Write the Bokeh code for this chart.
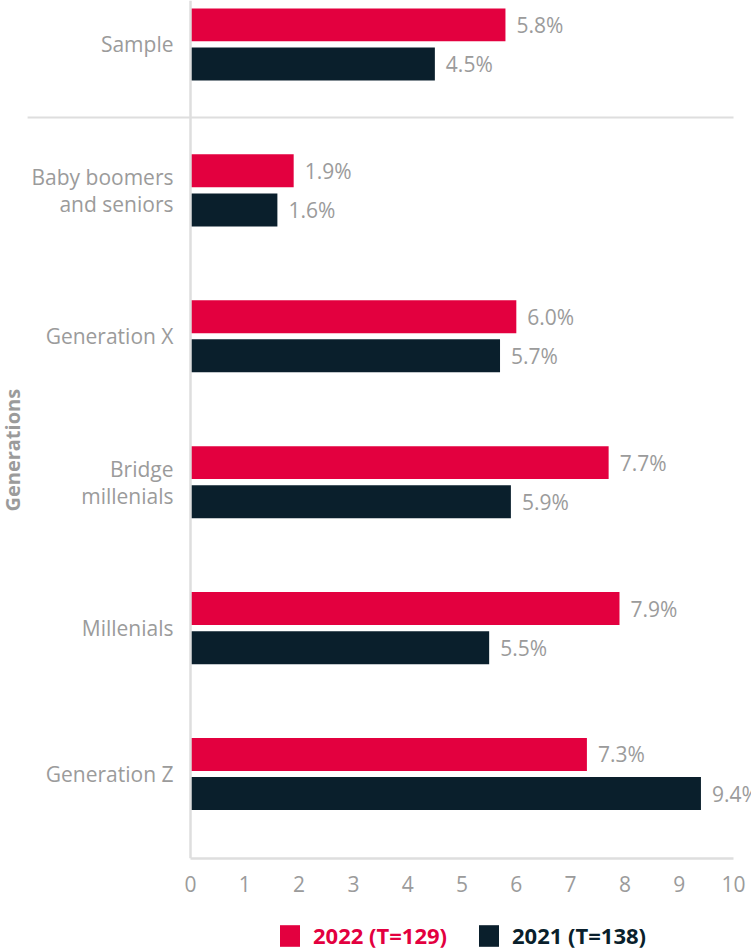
from math import pi
from bokeh.plotting import figure
from bokeh.layouts import column
from bokeh.models import (ColumnDataSource, Range1d, LabelSet, Label, Legend,
                          LegendItem, Arrow, FixedTicker, Span)
from bokeh.transform import dodge
from bokeh.core.properties import value
from bokeh.embed import file_html
from bokeh.resources import INLINE

# ---- data ----
categories = ["Sample", "Baby boomers\nand seniors", "Generation X",
              "Bridge\nmillenials", "Millenials", "Generation Z"]
values_2022 = [5.8, 1.9, 6.0, 7.7, 7.9, 7.3]
values_2021 = [4.5, 1.6, 5.7, 5.9, 5.5, 9.4]
series_names = ["2022 (T=129)", "2021 (T=138)"]
x_ticks = [0, 1, 2, 3, 4, 5, 6, 7, 8, 9, 10]
axis_title = "Generations"

# ---- style ----
RED = "#E3003F"
NAVY = "#0A1F2C"
GRAY_TEXT = "#9B9B9B"
AXIS_GRAY = "#DEDEDE"
FONT = "Open Sans"
FS = "21px"
W = 751
LINE_H = 27  # px between lines of a wrapped category label

n = len(categories)
ypos = [n - 1 - i for i in range(n)]

src = ColumnDataSource(dict(
    y=ypos, v22=values_2022, v21=values_2021,
    t22=[f"{v:.1f}%" for v in values_2022],
    t21=[f"{v:.1f}%" for v in values_2021],
))

# one row per line of each category label (right-aligned line by line)
lab_y, lab_t, lab_off = [], [], []
for y, cat in zip(ypos, categories):
    lines = cat.split("\n")
    k = len(lines)
    for j, ln in enumerate(lines):
        lab_y.append(y)
        lab_t.append(ln)
        lab_off.append(((k - 1) / 2 - j) * LINE_H)
lab_src = ColumnDataSource(dict(y=lab_y, text=lab_t, off=lab_off))

p = figure(width=W, height=900, output_backend="svg", toolbar_location=None,
           x_range=Range1d(-3.499, 10.331), y_range=Range1d(-0.579, 5.301),
           y_axis_location=None,
           min_border_left=0, min_border_right=0, min_border_top=0,
           min_border_bottom=42)
p.outline_line_color = None
p.grid.visible = False
p.background_fill_color = "white"
p.border_fill_color = "white"

# vertical axis line at 0
p.add_layout(Span(location=0, dimension="height", line_color=AXIS_GRAY,
                  line_width=2.5))
# separator between Sample and generations
p.add_layout(Arrow(x_start=-3.0, y_start=4.5, x_end=10, y_end=4.5, end=None,
                   line_color=AXIS_GRAY, line_width=2))

OFF = 0.134
H = 0.226
r22 = p.hbar(y=dodge("y", OFF), left=0, right="v22", height=H,
             fill_color=RED, line_color=None, source=src)
r21 = p.hbar(y=dodge("y", -OFF), left=0, right="v21", height=H,
             fill_color=NAVY, line_color=None, source=src)

# value labels
for fld, txt, off in (("v22", "t22", OFF), ("v21", "t21", -OFF)):
    p.add_layout(LabelSet(x=fld, y=dodge("y", off), text=txt, source=src,
                          x_offset=11, text_baseline="middle", text_align="left",
                          text_font=value(FONT), text_font_size=FS,
                          text_color=GRAY_TEXT))

# category labels
p.add_layout(LabelSet(x=0, y="y", text="text", y_offset="off", source=lab_src,
                      x_offset=-17, text_align="right", text_baseline="middle",
                      text_font=value(FONT), text_font_size=FS,
                      text_color=GRAY_TEXT))

# axis title
p.add_layout(Label(x=-3.278, y=2.219, text=axis_title, angle=pi / 2,
                   text_align="center", text_baseline="middle",
                   text_font=FONT, text_font_size="20px",
                   text_font_style="bold", text_color=GRAY_TEXT))

# x axis
p.xaxis.ticker = FixedTicker(ticks=x_ticks)
p.xaxis.bounds = (0, 10)
p.xaxis.major_tick_line_color = None
p.xaxis.minor_tick_line_color = None
p.xaxis.major_tick_out = 0
p.xaxis.major_tick_in = 0
p.xaxis.major_label_standoff = 17
p.xaxis.major_label_text_font = FONT
p.xaxis.major_label_text_font_size = FS
p.xaxis.major_label_text_color = GRAY_TEXT
p.xaxis.axis_line_color = AXIS_GRAY
p.xaxis.axis_line_width = 2.5

# ---- legend strip ----
lg = figure(width=W, height=50, output_backend="svg", toolbar_location=None,
            x_range=Range1d(0, 1), y_range=Range1d(0, 1),
            x_axis_location=None, y_axis_location=None,
            min_border_left=0, min_border_right=0, min_border_top=0,
            min_border_bottom=0)
lg.outline_line_color = None
lg.grid.visible = False
# off-range stand-ins, only used to draw the legend swatches
key = ColumnDataSource(dict(y=[-9], right=[-9]))
k22 = lg.hbar(y="y", right="right", height=1, fill_color=RED, line_color=None,
              source=key)
k21 = lg.hbar(y="y", right="right", height=1, fill_color=NAVY, line_color=None,
              source=key)
for r, name, col, loc in ((k22, series_names[0], RED, (277, 0)),
                          (k21, series_names[1], NAVY, (476, 0))):
    leg = Legend(items=[LegendItem(label=name, renderers=[r])], location=loc,
                 orientation="horizontal", glyph_width=25, glyph_height=27,
                 label_standoff=11, padding=0, margin=0, spacing=0,
                 border_line_color=None, background_fill_alpha=0,
                 label_text_font=FONT, label_text_font_size="22px",
                 label_text_font_style="bold", label_text_color=col)
    lg.add_layout(leg)

layout = column(p, lg, spacing=0)
open("out.html", "w").write(file_html(layout, INLINE))
